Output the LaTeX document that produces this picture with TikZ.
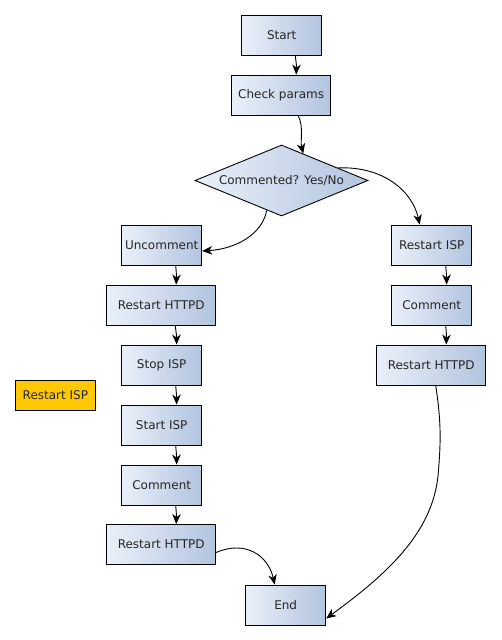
\documentclass[tikz,border=0pt]{standalone}
\usepackage{fontspec}
\setmainfont{DejaVu Sans}
\usetikzlibrary{shapes.geometric,arrows.meta,calc}
\definecolor{boxL}{HTML}{EAF0F9}
\definecolor{boxR}{HTML}{B2C4DF}
\definecolor{isp}{HTML}{FFC800}
\tikzset{
  box/.style={draw=black, line width=0.9pt, left color=boxL, right color=boxR,
    minimum width=80pt, minimum height=40pt, inner sep=0pt, font=\fontsize{12}{14}\selectfont, text=black!85},
  wide/.style={box, minimum width=109pt},
  mid/.style={box, minimum width=99pt},
  dia/.style={draw=black, line width=0.9pt, diamond, aspect=2.44, left color=boxL, right color=boxR,
    minimum width=173pt, minimum height=71pt, inner sep=0pt, font=\fontsize{12}{14}\selectfont, text=black!85},
  note/.style={draw=black, line width=0.9pt, fill=isp, minimum width=80pt, minimum height=30pt,
    inner sep=0pt, font=\fontsize{12}{14}\selectfont, text=black!85},
  conn/.style={line width=0.9pt, -{Stealth[length=10pt,width=8.5pt,inset=3pt]}}
}
\begin{document}
\begin{tikzpicture}[x=1pt,y=-1pt]
\useasboundingbox (0,0) rectangle (501,640);
\node[box] (start) at (281.7,35) {Start};
\node[mid] (check) at (281.2,95) {Check params};
\node[dia] (q) at (281.5,180.5) {Commented? Yes/No};
\node[box] (unc) at (161.7,245) {Uncomment};
\node[wide] (rh1) at (161.2,305) {Restart HTTPD};
\node[box] (stop) at (161.7,365) {Stop ISP};
\node[note] (risp) at (55.4,395) {Restart ISP};
\node[box] (sisp) at (161.7,425) {Start ISP};
\node[box] (com1) at (161.7,485) {Comment};
\node[wide] (rh2) at (161.2,544.5) {Restart HTTPD};
\node[box] (end) at (285.7,605) {End};
\node[box] (risp2) at (431.7,245) {Restart ISP};
\node[box] (com2) at (431.7,305) {Comment};
\node[wide] (rh3) at (431.2,365) {Restart HTTPD};

\coordinate (qa) at ($(q.north)!0.25!(q.east)$);
\coordinate (qb) at ($(q.south)!0.17!(q.west)$);
\coordinate (qc) at ($(q.north)!0.65!(q.east)$);
\coordinate (bend) at (438.5,470);

\draw[conn] ([xshift=13.5pt]start.south) .. controls (296.5,65) .. ([xshift=15pt]check.north);
\draw[conn] ([xshift=17pt]check.south) .. controls (304,128) and (300,140) .. (qa);
\draw[conn] (qb) .. controls (262,235) and (235,249) .. ([yshift=-6pt]unc.east);
\draw[conn] (qc) .. controls (382,166) and (412,190) .. ([xshift=-12pt]risp2.north);
\draw[conn] ([xshift=14pt]unc.south) .. controls (176.5,275) .. ([xshift=15pt]rh1.north);
\draw[conn] ([xshift=14pt]rh1.south) .. controls (176.5,335) .. ([xshift=15pt]stop.north);
\draw[conn] ([xshift=14pt]stop.south) .. controls (176.5,395) .. ([xshift=15pt]sisp.north);
\draw[conn] ([xshift=14pt]sisp.south) .. controls (176.5,455) .. ([xshift=15pt]com1.north);
\draw[conn] ([xshift=14pt]com1.south) .. controls (176.5,515) .. ([xshift=15pt]rh2.north);
\draw[conn] ([xshift=14pt]risp2.south) .. controls (446.5,275) .. ([xshift=15pt]com2.north);
\draw[conn] ([xshift=14pt]com2.south) .. controls (446.5,335) .. ([xshift=15pt]rh3.north);
\draw[conn] ([yshift=-8pt]rh2.east) .. controls (245,540) and (268,555) .. ([xshift=-11pt]end.north);
\draw[conn] ([xshift=4.5pt]rh3.south) .. controls (441,420) and (441,440) .. (bend)
  .. controls (435,530) and (390,572) .. ([yshift=-13.5pt]end.east);
\end{tikzpicture}
\end{document}
